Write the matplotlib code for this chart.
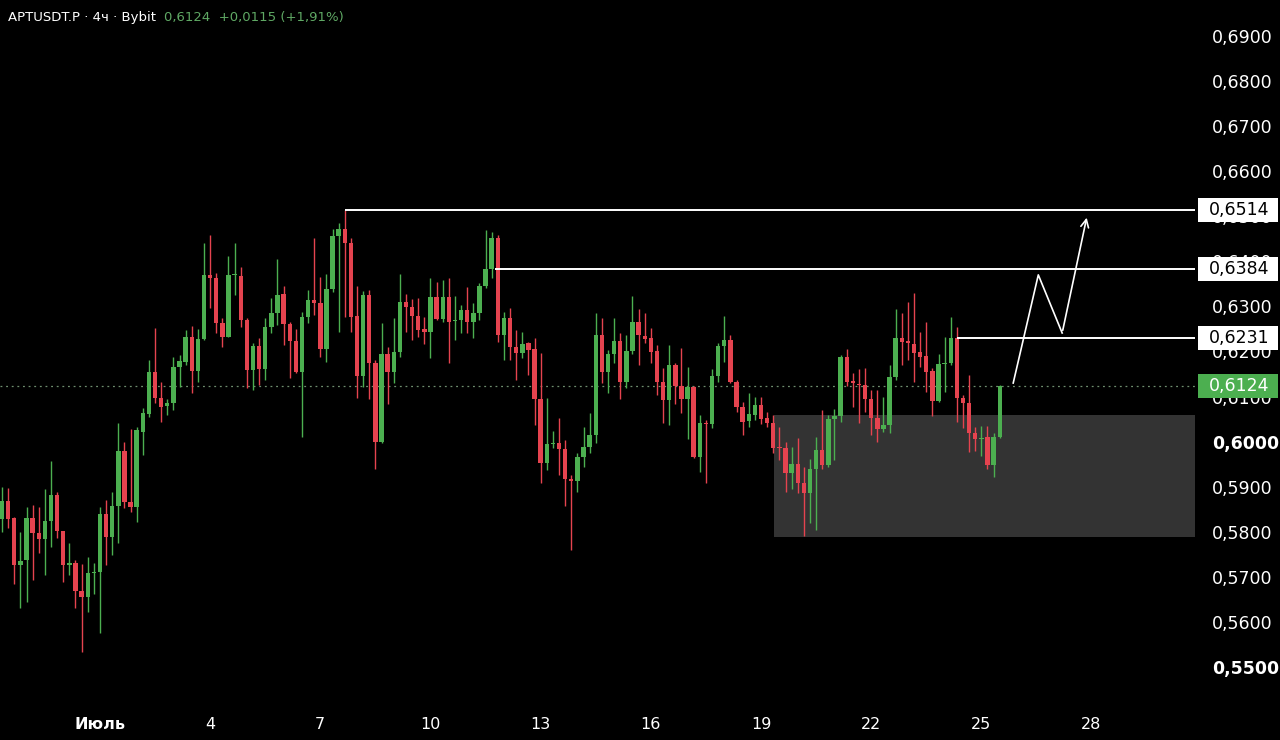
import numpy as np
import matplotlib.pyplot as plt
from matplotlib.patches import Rectangle
from matplotlib.transforms import blended_transform_factory

# APTUSDT.P 4h candles, Bybit
opens = [0.5828, 0.5868, 0.5830, 0.5726, 0.5737, 0.5830, 0.5797, 0.5783, 0.5824, 0.5881,
         0.5801, 0.5726, 0.5730, 0.5668, 0.5655, 0.5708, 0.5710, 0.5839, 0.5788, 0.5857,
         0.5979, 0.5866, 0.5855, 0.6021, 0.6061, 0.6154, 0.6096, 0.6079, 0.6085, 0.6165,
         0.6176, 0.6232, 0.6156, 0.6227, 0.6370, 0.6363, 0.6263, 0.6232, 0.6370, 0.6367,
         0.6270, 0.6159, 0.6212, 0.6161, 0.6254, 0.6285, 0.6327, 0.6261, 0.6223, 0.6154,
         0.6276, 0.6314, 0.6307, 0.6205, 0.6338, 0.6456, 0.6472, 0.6441, 0.6278, 0.6145,
         0.6325, 0.6174, 0.5999, 0.6194, 0.6154, 0.6199, 0.6310, 0.6298, 0.6278, 0.6250,
         0.6243, 0.6321, 0.6272, 0.6321, 0.6267, 0.6270, 0.6292, 0.6265, 0.6285, 0.6345,
         0.6383, 0.6452, 0.6236, 0.6274, 0.6210, 0.6196, 0.6219, 0.6205, 0.6094, 0.5952,
         0.5994, 0.5997, 0.5983, 0.5917, 0.5912, 0.5965, 0.5988, 0.6014, 0.6236, 0.6154,
         0.6194, 0.6223, 0.6132, 0.6201, 0.6265, 0.6234, 0.6230, 0.6201, 0.6132, 0.6092,
         0.6170, 0.6123, 0.6094, 0.6121, 0.5965, 0.6041, 0.6039, 0.6145, 0.6212, 0.6225,
         0.6132, 0.6076, 0.6045, 0.6059, 0.6081, 0.6052, 0.6041, 0.5988, 0.5985, 0.5930,
         0.5950, 0.5908, 0.5886, 0.5939, 0.5981, 0.5948, 0.6050, 0.6056, 0.6187, 0.6134,
         0.6128, 0.6125, 0.6094, 0.6052, 0.6028, 0.6037, 0.6143, 0.6230, 0.6223, 0.6216,
         0.6199, 0.6190, 0.6156, 0.6090, 0.6172, 0.6174, 0.6230, 0.6096, 0.6085, 0.6019,
         0.6005, 0.6010, 0.5948, 0.6010]
highs = [0.5899, 0.5896, 0.5832, 0.5800, 0.5855, 0.5859, 0.5855, 0.5894, 0.5957, 0.5888,
         0.5801, 0.5774, 0.5737, 0.5728, 0.5743, 0.5730, 0.5855, 0.5870, 0.5888, 0.6041,
         0.5999, 0.6028, 0.6032, 0.6074, 0.6181, 0.6252, 0.6132, 0.6094, 0.6187, 0.6192,
         0.6247, 0.6256, 0.6250, 0.6441, 0.6458, 0.6374, 0.6274, 0.6412, 0.6441, 0.6387,
         0.6274, 0.6219, 0.6230, 0.6274, 0.6318, 0.6405, 0.6345, 0.6265, 0.6250, 0.6287,
         0.6336, 0.6452, 0.6365, 0.6372, 0.6472, 0.6485, 0.6514, 0.6452, 0.6345, 0.6334,
         0.6336, 0.6181, 0.6263, 0.6210, 0.6274, 0.6372, 0.6327, 0.6316, 0.6318, 0.6276,
         0.6363, 0.6354, 0.6358, 0.6363, 0.6323, 0.6303, 0.6343, 0.6307, 0.6352, 0.6469,
         0.6465, 0.6458, 0.6287, 0.6296, 0.6247, 0.6243, 0.6221, 0.6230, 0.6196, 0.6096,
         0.6023, 0.6052, 0.6003, 0.5926, 0.5974, 0.6032, 0.6063, 0.6285, 0.6274, 0.6203,
         0.6274, 0.6241, 0.6236, 0.6323, 0.6294, 0.6285, 0.6252, 0.6214, 0.6163, 0.6214,
         0.6174, 0.6207, 0.6165, 0.6123, 0.6059, 0.6048, 0.6161, 0.6219, 0.6278, 0.6236,
         0.6136, 0.6088, 0.6108, 0.6099, 0.6099, 0.6065, 0.6059, 0.6032, 0.5999, 0.5988,
         0.6008, 0.5943, 0.5961, 0.6010, 0.6070, 0.6059, 0.6072, 0.6192, 0.6205, 0.6152,
         0.6161, 0.6163, 0.6114, 0.6114, 0.6099, 0.6170, 0.6294, 0.6285, 0.6310, 0.6330,
         0.6243, 0.6265, 0.6163, 0.6194, 0.6232, 0.6276, 0.6254, 0.6103, 0.6148, 0.6032,
         0.6034, 0.6034, 0.6019, 0.6126]
lows = [0.5800, 0.5808, 0.5685, 0.5630, 0.5644, 0.5692, 0.5752, 0.5704, 0.5766, 0.5786,
        0.5688, 0.5704, 0.5630, 0.5533, 0.5621, 0.5663, 0.5575, 0.5726, 0.5748, 0.5774,
        0.5852, 0.5843, 0.5821, 0.5970, 0.6054, 0.6085, 0.6043, 0.6059, 0.6070, 0.6121,
        0.6170, 0.6108, 0.6132, 0.6225, 0.6296, 0.6241, 0.6210, 0.6232, 0.6325, 0.6254,
        0.6119, 0.6114, 0.6125, 0.6136, 0.6241, 0.6258, 0.6214, 0.6141, 0.6152, 0.6010,
        0.6263, 0.6281, 0.6187, 0.6176, 0.6332, 0.6243, 0.6276, 0.6243, 0.6096, 0.6121,
        0.6094, 0.5939, 0.5997, 0.6083, 0.6130, 0.6187, 0.6243, 0.6225, 0.6232, 0.6216,
        0.6185, 0.6270, 0.6265, 0.6174, 0.6225, 0.6241, 0.6241, 0.6230, 0.6270, 0.6341,
        0.6363, 0.6221, 0.6181, 0.6181, 0.6136, 0.6185, 0.6148, 0.6037, 0.5908, 0.5937,
        0.5985, 0.5926, 0.5857, 0.5759, 0.5888, 0.5943, 0.5974, 0.5997, 0.6130, 0.6108,
        0.6174, 0.6094, 0.6119, 0.6194, 0.6170, 0.6219, 0.6174, 0.6103, 0.6041, 0.6037,
        0.6083, 0.6063, 0.6005, 0.5963, 0.5932, 0.5908, 0.6030, 0.6132, 0.6176, 0.6130,
        0.6065, 0.6014, 0.6032, 0.6048, 0.6039, 0.6032, 0.5974, 0.5959, 0.5888, 0.5894,
        0.5886, 0.5790, 0.5819, 0.5804, 0.5939, 0.5943, 0.5959, 0.6043, 0.6123, 0.6076,
        0.6041, 0.6065, 0.6014, 0.5999, 0.6021, 0.6019, 0.6136, 0.6170, 0.6181, 0.6132,
        0.6165, 0.6110, 0.6056, 0.6088, 0.6110, 0.6170, 0.6043, 0.6030, 0.5977, 0.5979,
        0.5968, 0.5939, 0.5921, 0.6008]
closes = [0.5868, 0.5828, 0.5726, 0.5735, 0.5830, 0.5797, 0.5783, 0.5824, 0.5881, 0.5801,
          0.5726, 0.5730, 0.5668, 0.5655, 0.5708, 0.5710, 0.5839, 0.5788, 0.5857, 0.5979,
          0.5866, 0.5855, 0.6025, 0.6063, 0.6154, 0.6096, 0.6076, 0.6085, 0.6165, 0.6179,
          0.6232, 0.6156, 0.6227, 0.6370, 0.6363, 0.6263, 0.6232, 0.6370, 0.6372, 0.6270,
          0.6159, 0.6212, 0.6161, 0.6254, 0.6285, 0.6325, 0.6261, 0.6223, 0.6154, 0.6276,
          0.6314, 0.6307, 0.6205, 0.6338, 0.6456, 0.6472, 0.6441, 0.6276, 0.6145, 0.6325,
          0.6174, 0.5999, 0.6194, 0.6154, 0.6199, 0.6310, 0.6298, 0.6278, 0.6247, 0.6243,
          0.6321, 0.6272, 0.6321, 0.6265, 0.6270, 0.6292, 0.6265, 0.6285, 0.6345, 0.6383,
          0.6452, 0.6236, 0.6274, 0.6210, 0.6196, 0.6216, 0.6203, 0.6094, 0.5952, 0.5994,
          0.5997, 0.5983, 0.5917, 0.5912, 0.5965, 0.5988, 0.6014, 0.6236, 0.6154, 0.6194,
          0.6223, 0.6132, 0.6201, 0.6265, 0.6236, 0.6227, 0.6199, 0.6132, 0.6092, 0.6170,
          0.6123, 0.6094, 0.6121, 0.5965, 0.6041, 0.6039, 0.6145, 0.6212, 0.6225, 0.6132,
          0.6076, 0.6043, 0.6061, 0.6081, 0.6050, 0.6041, 0.5985, 0.5985, 0.5930, 0.5950,
          0.5908, 0.5886, 0.5939, 0.5981, 0.5948, 0.6050, 0.6056, 0.6187, 0.6132, 0.6130,
          0.6125, 0.6094, 0.6052, 0.6028, 0.6037, 0.6143, 0.6230, 0.6221, 0.6219, 0.6196,
          0.6187, 0.6154, 0.6090, 0.6172, 0.6174, 0.6230, 0.6096, 0.6085, 0.6019, 0.6005,
          0.6008, 0.5948, 0.6010, 0.6124]

# x labels: one day = 6 candles, Jul 1 00:00 is candle 16
day_ticks = [16, 34, 52, 70, 88, 106, 124, 142, 160, 178]
day_labels = ["Июль", "4", "7", "10", "13", "16", "19", "22", "25", "28"]
price_ticks = [0.55, 0.56, 0.57, 0.58, 0.59, 0.60, 0.61, 0.62, 0.63, 0.64, 0.65, 0.66, 0.67, 0.68, 0.69]

# drawn levels: (price, first candle)
levels = [(0.6514, 56), (0.6384, 80.6), (0.6231, 156)]
last_price = 0.6124
zone_low, zone_high, zone_start = 0.5788, 0.6059, 126.1
# hand-drawn forecast path
path_x = [165.2, 169.3, 173.2, 177.3]
path_y = [0.6130, 0.6370, 0.6241, 0.6503]

GREEN = "#4caf50"
RED = "#e5434f"

x = np.arange(len(opens))
o = np.array(opens)
c = np.array(closes)
up = c >= o
colors = np.where(up, GREEN, RED)

fig = plt.figure(figsize=(12.8, 7.4), dpi=100, facecolor="black")
ax = fig.add_axes([0, 45 / 740, 1195 / 1280, 695 / 740])
ax.set_facecolor("black")
xmax = 194.9
ax.set_xlim(-0.33, xmax)
ax.set_ylim(0.54378, 0.69799)

# gray zone
ax.add_patch(Rectangle((zone_start, zone_low), xmax - zone_start, zone_high - zone_low,
                       facecolor="#333333", edgecolor="none", zorder=0))

# last price dotted line
ax.axhline(last_price, color="#6f8f6f", lw=0.9, ls=(0, (1.5, 3)), zorder=1)

# candles
ax.vlines(x, lows, highs, colors=colors, lw=1, zorder=2)
body_h = np.maximum(np.abs(c - o), 0.00015)
ax.bar(x, body_h, bottom=np.minimum(o, c), width=0.72, color=colors, zorder=3)

# level lines
for p, start in levels:
    ax.hlines(p, start, xmax, colors="white", lw=1.4, zorder=4)

# forecast zigzag
ax.plot(path_x[:3], path_y[:3], color="white", lw=1.2, zorder=4)
ax.annotate("", xy=(path_x[3], path_y[3]), xytext=(path_x[2], path_y[2]),
            arrowprops=dict(arrowstyle="->", color="white", lw=1.2, mutation_scale=14),
            zorder=4)

for s in ax.spines.values():
    s.set_visible(False)

ax.yaxis.tick_right()
ax.set_yticks(price_ticks)
ax.set_yticklabels([f"{v:.4f}".replace(".", ",") for v in price_ticks])
ax.tick_params(axis="y", length=0, pad=12, labelsize=12.5, labelcolor="white")
for lbl, v in zip(ax.get_yticklabels(), price_ticks):
    if abs(v - 0.60) < 1e-6 or abs(v - 0.55) < 1e-6:
        lbl.set_fontweight("bold")

ax.set_xticks(day_ticks)
ax.set_xticklabels(day_labels)
ax.tick_params(axis="x", length=0, pad=16, labelsize=11.5, labelcolor="white")
ax.get_xticklabels()[0].set_fontweight("bold")

# price tags on the axis
tr = blended_transform_factory(ax.transAxes, ax.transData)
tag_h = 24 / 4507
tags = [(0.6514, "white", "black"), (0.6384, "white", "black"),
        (0.6231, "white", "black"), (last_price, GREEN, "white")]
for p, bg, fg in tags:
    ax.add_patch(Rectangle((1198 / 1195, p - tag_h / 2), 80 / 1195, tag_h, transform=tr,
                           facecolor=bg, edgecolor="none", clip_on=False, zorder=6))
    ax.text(1239 / 1195, p, f"{p:.4f}".replace(".", ","), transform=tr, color=fg,
            fontsize=12.5, ha="center", va="center", clip_on=False, zorder=7)

# header
t1 = fig.text(8 / 1280, 1 - 17 / 740, "APTUSDT.P · 4ч · Bybit", color="white",
              fontsize=9.5, va="center", ha="left")
ax.annotate("0,6124  +0,0115 (+1,91%)", xy=(1, 0.5), xycoords=t1, xytext=(6, 0),
            textcoords="offset points", color="#5fa864", fontsize=9.5, va="center")

plt.savefig("out.png", dpi=100, facecolor="black")
